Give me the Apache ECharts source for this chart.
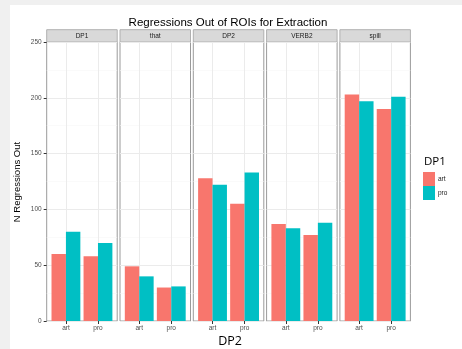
<!DOCTYPE html>
<html>
<head>
<meta charset="utf-8">
<script src="https://cdn.jsdelivr.net/npm/echarts@6/dist/echarts.min.js"></script>
<style>
html,body{margin:0;padding:0;background:#f0f0f0;}
#c{width:462px;height:349px;}
</style>
</head>
<body>
<div id="c"></div>
<script>
// ---- data ----
const panels = ['DP1', 'that', 'DP2', 'VERB2', 'spill'];
const dp2Categories = ['art', 'pro'];
const dp1Levels = ['art', 'pro'];
// values per panel, for DP2 = [art, pro]
const dp1ArtValues = [[60, 58], [49, 30], [128, 105], [87, 77], [203, 190]];
const dp1ProValues = [[80, 70], [40, 31], [122, 133], [83, 88], [197, 201]];
const yTicks = [0, 50, 100, 150, 200, 250];

// ---- layout ----
const colors = ['#F8766D', '#00BFC4'];
const PL0 = 46.7, PW = 70.5, STEP = 73.3, PT = 42, PH = 279;
const INSET = PW * 0.1 / 2.2;
const STRIP_H = 12.3;

const grids = [], xAxes = [], yAxes = [], series = [], graphics = [];

graphics.push({type: 'rect', shape: {x: 10, y: 5, width: 452, height: 344}, style: {fill: '#ffffff'}, z: -10, silent: true});

panels.forEach((p, i) => {
  const left = PL0 + i * STEP;
  // grid A: full panel (border + horizontal grid lines)
  const gA = grids.length;
  grids.push({left: left, top: PT, width: PW, height: PH, show: true, backgroundColor: '#ffffff', borderColor: '#9a9a9a', borderWidth: 1});
  xAxes.push({gridIndex: gA, type: 'value', show: false, min: 0, max: 1});
  yAxes.push({
    gridIndex: gA, type: 'value', min: yTicks[0], max: yTicks[yTicks.length - 1], interval: 50,
    axisLine: {show: false},
    axisTick: {show: i === 0, length: 3, lineStyle: {color: '#333333', width: 1}},
    axisLabel: {show: i === 0, fontSize: 6.5, color: '#4d4d4d', margin: 5, fontFamily: 'Liberation Sans'},
    splitLine: {show: true, lineStyle: {color: '#ebebeb', width: 1}},
    minorTick: {show: false, splitNumber: 2},
    minorSplitLine: {show: true, lineStyle: {color: '#f7f7f7', width: 0.6}}
  });
  // grid B: inset (bars, category axis)
  const gB = grids.length;
  grids.push({left: left + INSET, top: PT, width: PW - 2 * INSET, height: PH, show: false});
  const xMain = xAxes.length;
  xAxes.push({
    gridIndex: gB, type: 'category', data: dp2Categories,
    axisLine: {show: false},
    axisTick: {show: true, alignWithLabel: true, length: 3, lineStyle: {color: '#333333'}},
    axisLabel: {fontSize: 6.5, color: '#4d4d4d', margin: 4, fontFamily: 'Liberation Sans'},
    splitLine: {show: false}
  });
  xAxes.push({
    gridIndex: gB, type: 'category', data: ['0', '1', '2', '3', '4'], boundaryGap: false,
    axisLine: {show: false}, axisTick: {show: false}, axisLabel: {show: false},
    splitLine: {show: true, interval: (idx) => idx === 1 || idx === 3, lineStyle: {color: '#ebebeb', width: 1}}
  });
  const yB = yAxes.length;
  yAxes.push({gridIndex: gB, type: 'value', min: 0, max: 250, show: false});
  [dp1ArtValues, dp1ProValues].forEach((vals, k) => {
    series.push({
      type: 'bar', name: dp1Levels[k], xAxisIndex: xMain, yAxisIndex: yB,
      data: vals[i], barGap: '0%', barCategoryGap: '10%',
      itemStyle: {color: colors[k]}, silent: true
    });
  });
  // strip
  graphics.push({type: 'rect', shape: {x: left, y: PT - STRIP_H, width: PW, height: STRIP_H},
    style: {fill: '#d9d9d9', stroke: '#b0b0b0', lineWidth: 1}, silent: true});
  graphics.push({type: 'text', x: left + PW / 2, y: PT - STRIP_H / 2,
    style: {text: p, fontSize: 6.5, fill: '#1a1a1a', textAlign: 'center', textVerticalAlign: 'middle', fontFamily: 'Liberation Sans'}, silent: true});
});

graphics.push({type: 'text', x: 228, y: 23, style: {text: 'Regressions Out of ROIs for Extraction', fontSize: 11.5, fill: '#000', textAlign: 'center', textVerticalAlign: 'middle', fontFamily: 'Liberation Sans'}});
graphics.push({type: 'text', x: 17.5, y: 182, rotation: Math.PI / 2, style: {text: 'N Regressions Out', fontSize: 9.5, fill: '#000', textAlign: 'center', textVerticalAlign: 'middle', fontFamily: 'Liberation Sans'}});
graphics.push({type: 'text', x: 230, y: 341, style: {text: 'DP2', fontSize: 12.5, fill: '#000', textAlign: 'center', textVerticalAlign: 'middle', fontFamily: 'Open Sans'}});
graphics.push({type: 'text', x: 424, y: 162, style: {text: 'DP1', fontSize: 11.5, fill: '#000', textAlign: 'left', textVerticalAlign: 'middle', fontFamily: 'Open Sans'}});

const chart = echarts.init(document.getElementById('c'), null, {renderer: 'canvas'});
chart.setOption({
  animation: false,
  backgroundColor: '#f0f0f0',
  grid: grids, xAxis: xAxes, yAxis: yAxes, series: series,
  legend: {
    data: dp1Levels, orient: 'vertical', left: 423, top: 172, itemWidth: 12, itemHeight: 14, itemGap: 0,
    icon: 'rect', padding: 0, selectedMode: false,
    textStyle: {fontSize: 6.5, color: '#1a1a1a', fontFamily: 'Liberation Sans', padding: [0, 0, 0, -2]}
  },
  graphic: graphics
});
</script>
</body>
</html>
